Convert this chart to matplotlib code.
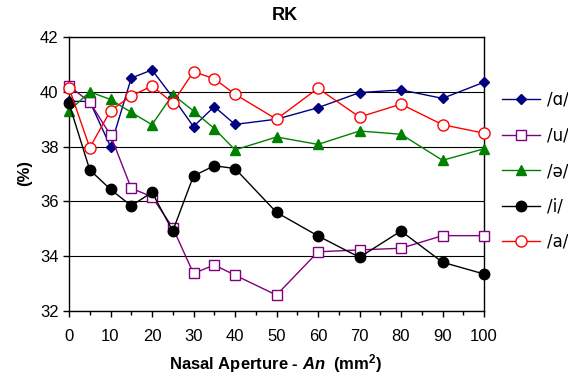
import numpy as np
import matplotlib.pyplot as plt
from matplotlib.ticker import MultipleLocator

plt.rcParams['font.family'] = ['Liberation Sans', 'DejaVu Sans']
plt.rcParams['mathtext.fontset'] = 'custom'
plt.rcParams['mathtext.rm'] = 'Liberation Sans'
plt.rcParams['mathtext.it'] = 'Liberation Sans:italic'
plt.rcParams['mathtext.bf'] = 'Liberation Sans:bold'
plt.rcParams['mathtext.bfit'] = 'Liberation Sans:bold:italic'

aperture = [0, 5, 10, 15, 20, 25, 30, 35, 40, 50, 60, 70, 80, 90, 100]

vowel_alpha = [39.65, 39.65, 38.0, 40.5, 40.8, 39.8, 38.73, 39.46, 38.81, 39.0,
               39.42, 39.97, 40.07, 39.76, 40.35]
vowel_u = [40.22, 39.62, 38.42, 36.48, 36.17, 35.04, 33.37, 33.68, 33.31, 32.58,
           34.16, 34.23, 34.29, 34.75, 34.75]
vowel_schwa = [39.3, 40.0, 39.72, 39.25, 38.8, 39.9, 39.3, 38.66, 37.88, 38.35,
               38.08, 38.57, 38.45, 37.5, 37.92]
vowel_i = [39.58, 37.15, 36.44, 35.84, 36.33, 34.92, 36.93, 37.3, 37.2, 35.6,
           34.74, 33.96, 34.92, 33.78, 33.35]
vowel_a = [40.15, 37.96, 39.31, 39.85, 40.21, 39.6, 40.73, 40.48, 39.91, 39.0,
           40.13, 39.08, 39.55, 38.8, 38.49]

labels = ['/ɑ/', '/u/', '/ə/', '/i/', '/a/']

fig = plt.figure(figsize=(5.68, 3.78), dpi=100)
ax = fig.add_axes([69/568, 1 - 311/378, 415/568, 274/378])

ax.plot(aperture, vowel_alpha, color='#000080', marker='D', markersize=5.5,
        lw=1, label=labels[0], clip_on=False, zorder=3)
ax.plot(aperture, vowel_u, color='#800080', marker='s', markersize=7.5,
        markerfacecolor='white', markeredgewidth=1, lw=1, label=labels[1],
        clip_on=False, zorder=3)
ax.plot(aperture, vowel_schwa, color='#008000', marker='^', markersize=7.5,
        lw=1, label=labels[2], clip_on=False, zorder=3)
ax.plot(aperture, vowel_i, color='black', marker='o', markersize=7.5,
        lw=1, label=labels[3], clip_on=False, zorder=3)
ax.plot(aperture, vowel_a, color='red', marker='o', markersize=8,
        markerfacecolor='white', markeredgewidth=1, lw=1, label=labels[4],
        clip_on=False, zorder=3)

ax.set_xlim(0, 100)
ax.set_ylim(32, 42)
ax.xaxis.set_major_locator(MultipleLocator(10))
ax.xaxis.set_minor_locator(MultipleLocator(5))
ax.yaxis.set_major_locator(MultipleLocator(2))
ax.grid(axis='y', color='black', lw=0.8)
ax.set_axisbelow(True)
for s in ax.spines.values():
    s.set_linewidth(1)
ax.tick_params(axis='both', which='major', labelsize=12, direction='out', length=4, width=1)
ax.tick_params(axis='x', which='minor', direction='out', length=3, width=1)
ax.tick_params(axis='x', pad=9)

fig.text(285/568, 1 - 15/378, 'RK', fontsize=13, fontweight='bold', ha='center', va='center')
fig.text(276/568, 1 - 364/378, r'Nasal Aperture - $\mathbfit{An}$  (mm$^\mathbf{2}$)',
         fontsize=12, fontweight='bold', ha='center', va='center')
fig.text(25/568, 1 - 173/378, '(%)', fontsize=12, fontweight='bold',
         rotation=90, ha='center', va='center')

fig.legend(loc='center left', bbox_to_anchor=(502/568, 1 - 171/378), frameon=False,
           handlelength=2.3, labelspacing=1.05, handletextpad=0.4,
           borderpad=0, borderaxespad=0,
           prop={'family': ['DejaVu Sans'], 'size': 12})

fig.savefig('out.png', dpi=100)
